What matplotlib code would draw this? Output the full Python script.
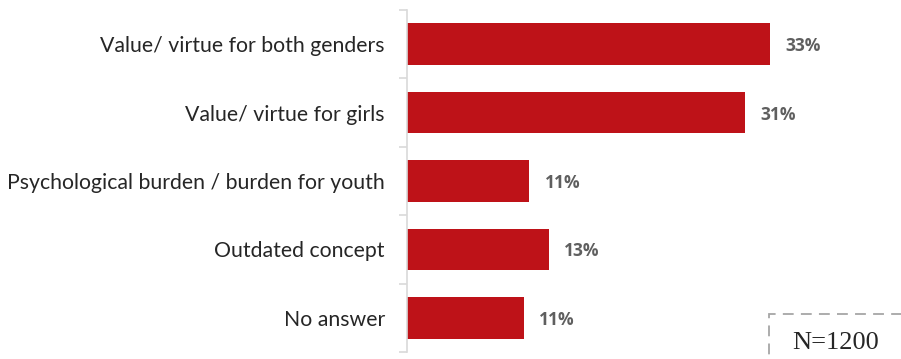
import matplotlib.pyplot as plt
from matplotlib.patches import Rectangle

# answers, top to bottom
categories = [
    'Value/ virtue for both genders',
    'Value/ virtue for girls',
    'Psychological burden / burden for youth',
    'Outdated concept',
    'No answer',
]
values = [33.0, 30.7, 11.1, 12.9, 10.6]
labels = ['33%', '31%', '11%', '13%', '11%']

fig = plt.figure(figsize=(9.01, 3.59), dpi=100)
ax = fig.add_axes([407 / 901, 7 / 359, 396 / 901, 342 / 359])

ypos = list(range(len(categories)))
ax.barh(ypos, values, height=0.61, color='#BE1218', edgecolor='none')
ax.set_ylim(len(categories) - 0.5, -0.5)
ax.set_xlim(0, 36)

# category boundaries as ticks
ax.set_yticks([i - 0.5 for i in range(len(categories) + 1)], minor=False)
ax.set_yticklabels([])
ax.set_yticks(ypos, minor=True)
ax.set_yticklabels(categories, minor=True, fontsize=15.3, family='Lato', color='#262626')
ax.tick_params(axis='y', which='major', length=6, color='#D9D9D9', width=1.2)
ax.tick_params(axis='y', which='minor', length=0, pad=16)
ax.set_xticks([])

for s in ['top', 'right', 'bottom']:
    ax.spines[s].set_visible(False)
ax.spines['left'].set_color('#D9D9D9')
ax.spines['left'].set_linewidth(1.2)

for y, v, t in zip(ypos, values, labels):
    ax.text(v + 1.4, y + 0.03, t, va='center', ha='left', fontsize=12.5, fontweight='bold',
            family='Open Sans', color='#5F5F5F')

# sample size box
box = Rectangle((769 / 901, -0.05), 0.2, 45 / 359 + 0.05, transform=fig.transFigure,
                fill=False, edgecolor='#A6A6A6', linestyle=(0, (6, 4)), linewidth=1.3)
fig.patches.append(box)
fig.text(792 / 901, 16 / 359, 'N=1200', family='Liberation Serif', fontsize=19,
         color='#262626', va='center', ha='left')

fig.savefig('out.png', dpi=100)
